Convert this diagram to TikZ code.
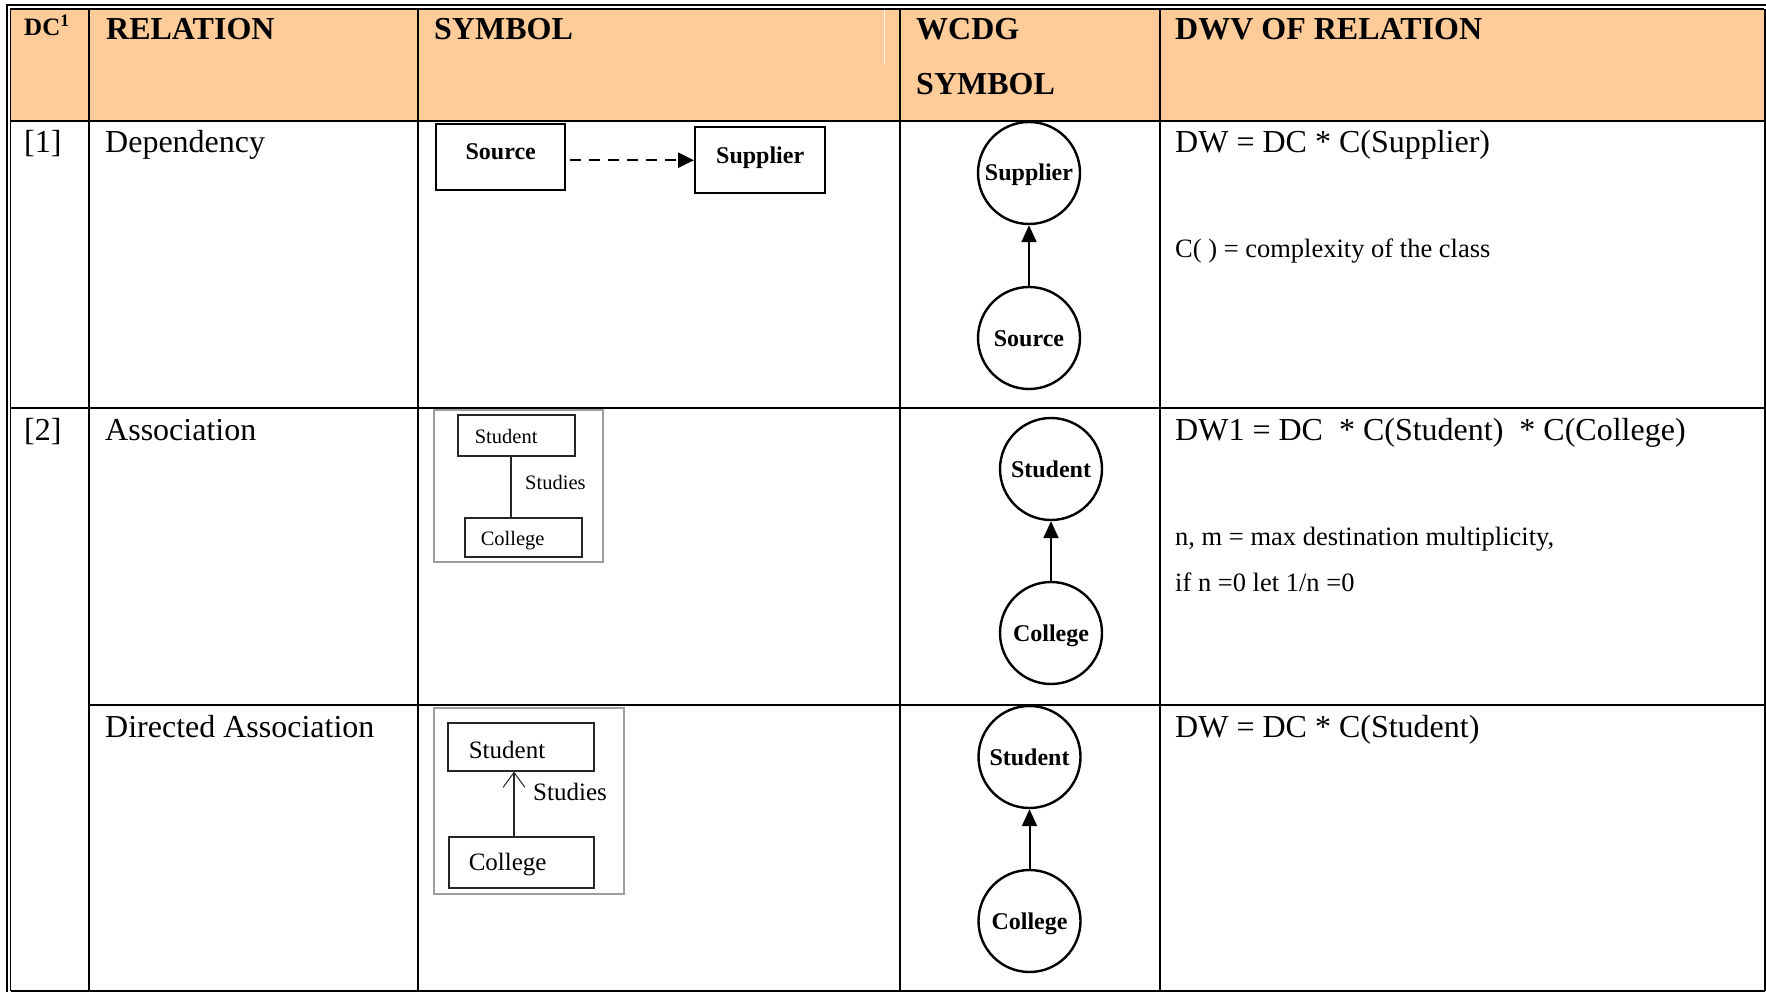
\documentclass[tikz,border=0pt]{standalone}
\usepackage{fontspec}
\setmainfont{Liberation Serif}
\usetikzlibrary{arrows.meta}
\definecolor{headfill}{HTML}{FFCC99}

\tikzset{
  gridline/.style={line width=2pt},
  outerline/.style={line width=1.6pt},
  hdr/.style={font=\bfseries\fontsize{32}{38}\selectfont, anchor=base west, inner sep=0pt},
  body/.style={font=\fontsize{32}{38}\selectfont, anchor=base west, inner sep=0pt},
  note/.style={font=\fontsize{26.5}{32}\selectfont, anchor=base west, inner sep=0pt},
  classbox/.style={draw, line width=2.4pt, inner sep=0pt, anchor=north west,
    font=\bfseries\fontsize{24}{28}\selectfont},
  wnode/.style={draw, circle, line width=2.4pt, inner sep=0pt, minimum size=102pt,
    font=\bfseries\fontsize{24}{28}\selectfont, text height=16pt, text depth=0pt},
  warrow/.style={line width=2pt, -{Triangle[length=17pt,width=15pt]}},
  deparrow/.style={line width=2.4pt, dash pattern=on 11pt off 8pt, dash phase=-4pt,
    -{Triangle[length=16pt,width=15pt]}},
  snapframe/.style={draw=black!38, line width=1.6pt, inner sep=0pt, anchor=north west},
  umlbox/.style={draw=black!85, line width=1.6pt, anchor=north west, inner ysep=0pt, align=left},
  umlsmall/.style={font=\fontsize{20.5}{24}\selectfont},
  umllarge/.style={font=\fontsize{25}{30}\selectfont},
  umllabel/.style={anchor=base west, inner sep=0pt},
  umlline/.style={draw=black!85, line width=1.6pt},
}

\begin{document}
\begin{tikzpicture}[x=1pt,y=-1pt]
\useasboundingbox (0,0) rectangle (1766,992);

% header band
\fill[headfill] (10.5,9) rectangle (1764,121);
\draw[white!85!headfill, line width=1pt] (884,10) -- (884,65);

% outer double frame (top and left), single right and bottom edges
\draw[outerline] (1766,5) -- (7,5) -- (7,992);
\draw[outerline] (1764,9) -- (10.5,9) -- (10.5,991);
\draw[gridline] (1764.5,9) -- (1764.5,991);
\draw[gridline] (10.5,991) -- (1764.5,991);

% column rules
\foreach \cx in {89,418,900,1160}
  \draw[gridline] (\cx,9) -- (\cx,991);

% row rules
\draw[gridline] (10.5,121) -- (1764.5,121);
\draw[gridline] (10.5,407.5) -- (1764.5,407.5);
\draw[gridline] (89,705) -- (1764.5,705);

% header texts
\node[hdr, font=\bfseries\fontsize{25}{30}\selectfont] (hdc) at (24,36) {DC\textsuperscript{1}};
\node[hdr] (hrel) at (106,40) {RELATION};
\node[hdr] (hsym) at (434,40) {SYMBOL};
\node[hdr] (hwa) at (916,40) {WCDG};
\node[hdr] (hwb) at (916,95) {SYMBOL};
\node[hdr] (hdwv) at (1175,40) {DWV OF RELATION};

% first column and relation names
\node[body] (dc1) at (24,153) {[1]};
\node[body] (dc2) at (24,440) {[2]};
\node[body] (rel1) at (105,153) {Dependency};
\node[body] (rel2) at (105,440) {Association};
\node[body] (rel3) at (105,737) {Directed Association};

% weight formulas
\node[body] (fa) at (1175,153) {DW = DC * C(Supplier)};
\node[note] (fb) at (1175,258) {C( ) = complexity of the class};
\node[body] (fc) at (1175,440) {DW1 = DC\ \ * C(Student)\ \ * C(College)};
\node[note] (fd) at (1175,545) {n, m = max destination multiplicity,};
\node[note] (fe) at (1175,591) {if n =0 let 1/n =0};
\node[body] (ff) at (1175,737) {DW = DC * C(Student)};

% dependency symbol
\node[classbox, minimum width=129pt, text height=35pt, text depth=31pt] (srcbox) at (435,123) {Source};
\node[classbox, minimum width=130pt, text height=36pt, text depth=30pt] (supbox) at (694,126) {Supplier};
\draw[deparrow] ([yshift=-3pt]srcbox.east) -- ([yshift=-3pt]srcbox.east -| supbox.west);

% association snapshot
\node[snapframe, minimum width=169pt, minimum height=152pt] (snapa) at (433,409) {};
\node[umlbox, umlsmall, inner xsep=17pt, text width=83pt, text height=29pt, text depth=12pt] (stua) at (457,414) {Student};
\node[umlbox, umlsmall, inner xsep=16pt, text width=85pt, text height=28pt, text depth=11pt] (cola) at (464,517) {College};
\coordinate (axa) at (511,0);
\draw[umlline] (stua.south -| axa) -- (cola.north -| axa);
\node[umllabel, umlsmall] (laba) at (525,489) {Studies};

% directed association snapshot
\node[snapframe, minimum width=190pt, minimum height=186pt] (snapb) at (433,707) {};
\node[umlbox, umllarge, inner xsep=21pt, text width=104pt, text height=36pt, text depth=12pt] (stub) at (447,722) {Student};
\node[umlbox, umllarge, inner xsep=20pt, text width=105pt, text height=34pt, text depth=17pt] (colb) at (448,836) {College};
\coordinate (axb) at (514,0);
\draw[umlline, -{Straight Barb[length=15pt,width=22pt,line width=1pt]}] (colb.north -| axb) -- (stub.south -| axb);
\node[umllabel, umllarge] (labb) at (533,800) {Studies};

% weighted class dependency graphs
\node[wnode] (wsup) at (1029,173) {Supplier};
\node[wnode] (wsrc) at (1029,338) {Source};
\draw[warrow] (wsrc) -- (wsup);

\node[wnode] (wstua) at (1051,469) {Student};
\node[wnode] (wcola) at (1051,633) {College};
\draw[warrow] (wcola) -- (wstua);

\node[wnode] (wstub) at (1029.5,757) {Student};
\node[wnode] (wcolb) at (1029.5,921) {College};
\draw[warrow] (wcolb) -- (wstub);
\end{tikzpicture}
\end{document}
